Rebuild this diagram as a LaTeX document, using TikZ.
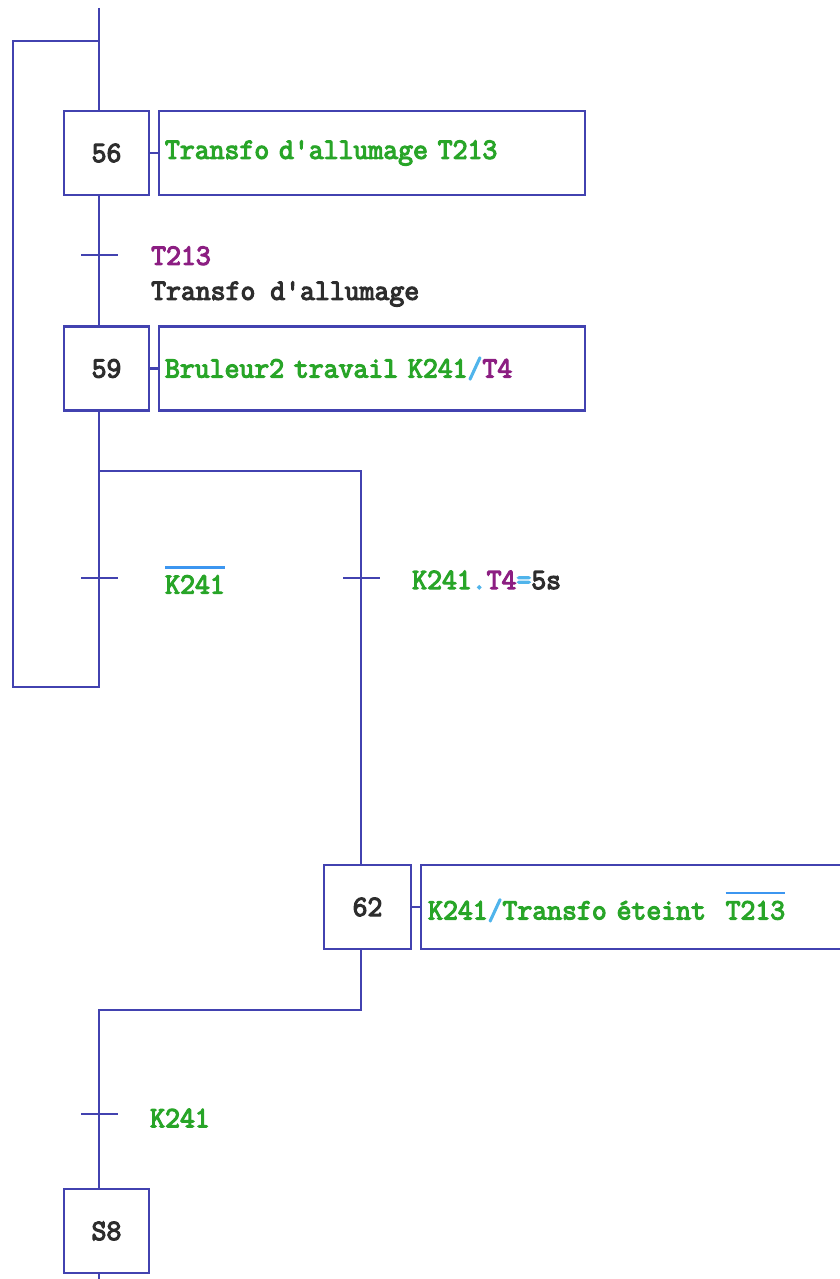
\documentclass[tikz,border=0pt]{standalone}
\usepackage{fontspec}
\newfontfamily\monof{Latin Modern Mono}[FakeStretch=0.98,FakeBold=4]
\definecolor{ln}{RGB}{66,66,176}
\definecolor{gr}{RGB}{40,165,40}
\definecolor{pu}{RGB}{140,30,130}
\definecolor{cy}{RGB}{80,180,235}
\definecolor{dk}{RGB}{45,45,45}
\definecolor{ovc}{RGB}{60,150,240}
\newcommand\ovl[1]{\setbox0\hbox{#1}\rlap{\color{ovc}\raise 0.85em\hbox{\rule{\wd0}{2.2pt}}}\box0}
\begin{document}
\begin{tikzpicture}[x=1pt,y=-1pt,
  txt/.style={font=\monof\fontsize{29.5}{35}\selectfont},
  stepbox/.style={draw=ln,line width=2.2pt,minimum width=85pt,minimum height=84pt,inner sep=0pt,txt,text=dk},
  actbox/.style={draw=ln,line width=2.2pt,minimum height=84pt,inner ysep=0pt,align=left,txt,text=gr},
  tick/.style={fill=ln,minimum width=37pt,minimum height=2.2pt,inner sep=0pt},
  lbl/.style={txt,anchor=west,inner sep=0pt,align=left},
  wire/.style={draw=ln,line width=2.2pt}]
\useasboundingbox (0,0) rectangle (840,1279);
\clip (0,0) rectangle (840,1279);
% steps
\node[stepbox] (s56) at (106.5,153) {56};
\node[stepbox] (s59) at (106.5,368.5) {59};
\node[stepbox,minimum width=87pt] (s62) at (367.5,907) {62};
\node[stepbox] (s8) at (106.5,1231) {S8};
% actions
\node[actbox,text width=414pt,inner xsep=6pt] (a56) at (372,153) {Transfo d'allumage T213};
\node[actbox,text width=414pt,inner xsep=6pt] (a59) at (372,368.5) {Bruleur2 travail K241\textcolor{cy}{/}\textcolor{pu}{T4}};
\node[actbox,text width=426pt,inner xsep=7pt,anchor=west] (a62) at (420,907) {K241\textcolor{cy}{/}Transfo éteint\ \ \ovl{T213}};
% coordinates
\coordinate (top) at (99,8);
\coordinate (lt) at (13,41);
\coordinate (lb) at (99,687);
\coordinate (dv) at (361,471);
\coordinate (cv) at (99,1010);
\coordinate (bot) at (99,1285);
% wires
\draw[wire] (top) -- (top |- s56.north);
\draw[wire] (top |- s56.south) -- (top |- s59.north);
\draw[wire] (top |- s59.south) -- (lb) -| (lt) -- (lt -| top);
\draw[wire] (top |- dv) -- (dv) -- (dv |- s62.north);
\draw[wire] (dv |- s62.south) |- (cv) -- (cv |- s8.north);
\draw[wire] (top |- s8.south) -- (bot);
\draw[wire] (s56.east) -- (a56.west);
\draw[wire] (s59.east) -- (a59.west);
\draw[wire] (s62.east) -- (a62.west);
% transitions
\node[tick] (t1) at (99.5,255) {};
\node[tick] (t2) at (99.5,578) {};
\node[tick] (t3) at (361.5,578) {};
\node[tick] (t4) at (99.5,1114) {};
% transition labels
\node[lbl] (l1) at (151,276.5) {\textcolor{pu}{T213}\\\textcolor{dk}{Transfo d'allumage}};
\node[lbl,text=gr] (l2) at (165,580) {\ovl{K241}};
\node[lbl,text=gr] (l3) at (412,580) {K241\textcolor{cy}{.}\textcolor{pu}{T4}\textcolor{cy}{=}\textcolor{dk}{5s}};
\node[lbl,text=gr] (l4) at (150,1118) {K241};
\end{tikzpicture}
\end{document}
